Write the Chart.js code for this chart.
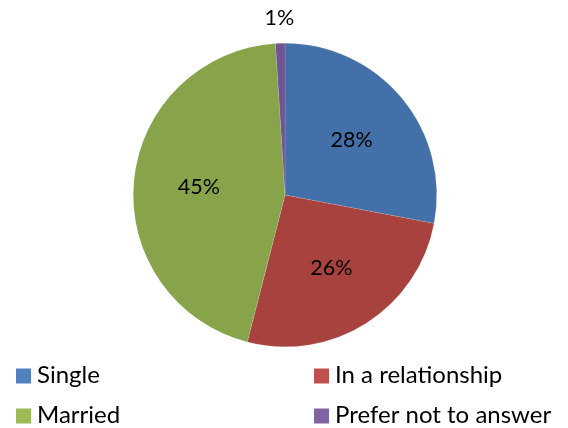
<!DOCTYPE html>
<html>
<head>
<meta charset="utf-8">
<script src="https://cdn.jsdelivr.net/npm/chart.js@4/dist/chart.umd.min.js"></script>
<style>
  html, body { margin: 0; padding: 0; background: #fff; }
  #wrap { width: 568px; height: 428px; position: relative; }
</style>
</head>
<body>
<div id="wrap"><canvas id="c" width="568" height="428"></canvas></div>
<script>
// Relationship status of respondents (percent)
const categories = ['Single', 'In a relationship', 'Married', 'Prefer not to answer'];
const shares = [28, 26, 45, 1];
const sliceColors = ['#4370A8', '#A8423F', '#87A44A', '#6F5592'];
const legendColors = ['#4F81BD', '#C0504D', '#9BBB59', '#8064A2'];

const FONT = 'Lato, "Open Sans", sans-serif';

// Percent labels: inside the slice, or just outside the rim for tiny slices
const sliceLabels = {
  id: 'sliceLabels',
  afterDatasetsDraw(chart) {
    const ctx = chart.ctx;
    const meta = chart.getDatasetMeta(0);
    const total = shares.reduce((a, b) => a + b, 0);
    ctx.save();
    ctx.fillStyle = '#000';
    ctx.font = '21.5px ' + FONT;
    ctx.textAlign = 'center';
    ctx.textBaseline = 'middle';
    meta.data.forEach((arc, i) => {
      const { x, y, startAngle, endAngle, outerRadius } = arc.getProps(['x', 'y', 'startAngle', 'endAngle', 'outerRadius'], true);
      const mid = (startAngle + endAngle) / 2;
      const pct = Math.round(shares[i] / total * 100) + '%';
      const r = shares[i] / total < 0.05 ? outerRadius + 25 : outerRadius * 0.57;
      ctx.fillText(pct, x + Math.cos(mid) * r, y + Math.sin(mid) * r);
    });
    ctx.restore();
  }
};

// Two-column legend below the pie
const gridLegend = {
  id: 'gridLegend',
  afterDraw(chart) {
    const ctx = chart.ctx;
    const colX = [16, 314];
    const rowBase = [383, 423];
    ctx.save();
    ctx.font = '24px ' + FONT;
    ctx.textBaseline = 'alphabetic';
    ctx.textAlign = 'left';
    categories.forEach((name, i) => {
      const x = colX[i % 2];
      const base = rowBase[Math.floor(i / 2)];
      ctx.fillStyle = legendColors[i];
      ctx.fillRect(x, base - 14.5, 15, 15);
      ctx.fillStyle = '#000';
      ctx.fillText(name, x + 21, base);
    });
    ctx.restore();
  }
};

new Chart(document.getElementById('c'), {
  type: 'pie',
  data: {
    labels: categories,
    datasets: [{
      data: shares,
      backgroundColor: sliceColors,
      borderColor: 'rgba(255,255,255,0.25)',
      borderWidth: 0.5
    }]
  },
  options: {
    responsive: false,
    animation: false,
    layout: { padding: { top: 43, bottom: 81, left: 2, right: 0 } },
    plugins: {
      legend: { display: false },
      tooltip: { enabled: false }
    }
  },
  plugins: [sliceLabels, gridLegend]
});
</script>
</body>
</html>
